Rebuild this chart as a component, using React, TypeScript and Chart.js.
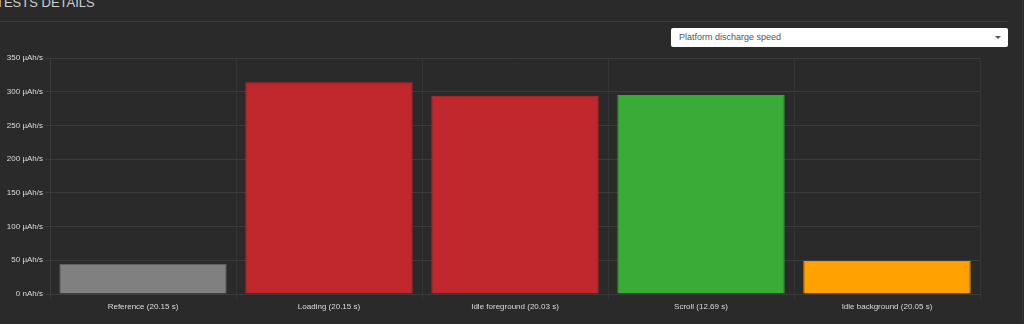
import React, { useEffect, useRef } from "react";
import { Chart, registerables } from "chart.js";

Chart.register(...registerables);

const categories = [
  "Reference (20.15 s)",
  "Loading (20.15 s)",
  "Idle foreground (20.03 s)",
  "Scroll (12.69 s)",
  "Idle background (20.05 s)",
];
const dischargeValues = [44.5, 314, 294, 295, 49];
const barColors = ["#808080", "#c1282e", "#c1282e", "#3aab37", "#ffa100"];
const barBorders = ["#606060", "#bb272d", "#bb272d", "#38a535", "#f09800"];
const yTicks = [0, 50, 100, 150, 200, 250, 300, 350];

const BG = "#2a2a2a";
const GRID = "#3b3b3b";
const FONT = "'Liberation Sans', Arial, Helvetica, sans-serif";

export default function App() {
  const ref = useRef<HTMLCanvasElement | null>(null);

  useEffect(() => {
    document.body.style.margin = "0";
    document.body.style.background = BG;
    if (!ref.current) return;
    const chart = new Chart(ref.current, {
      type: "bar",
      data: {
        labels: categories,
        datasets: [
          {
            label: "Platform discharge speed",
            data: dischargeValues,
            backgroundColor: barColors,
            borderColor: barBorders,
            borderWidth: 1,
            barPercentage: 0.9,
            categoryPercentage: 1,
          },
        ],
      },
      options: {
        animation: false,
        responsive: false,
        maintainAspectRatio: false,
        devicePixelRatio: 1,
        layout: { padding: { top: 8, right: 10, left: 0, bottom: 0 } },
        plugins: { legend: { display: false }, tooltip: { enabled: false } },
        scales: {
          x: {
            grid: { color: "#343434", offset: true, tickLength: 6, drawOnChartArea: true },
            border: { color: GRID },
            ticks: { color: "#dcdcdc", font: { family: FONT, size: 8 }, padding: 2, maxRotation: 0 },
            afterFit: (s: any) => {
              s.height = 26;
            },
          },
          y: {
            min: 0,
            max: 350,
            afterBuildTicks: (s: any) => {
              s.ticks = yTicks.map((v) => ({ value: v }));
            },
            grid: { color: GRID, tickLength: 5 },
            border: { color: GRID },
            ticks: {
              color: "#dcdcdc",
              font: { family: FONT, size: 8 },
              padding: 2,
              callback: (v: any) => (Number(v) === 0 ? "0 nAh/s" : v + " µAh/s"),
            },
            afterFit: (s: any) => {
              s.width = 50;
            },
          },
        },
      },
    });
    return () => chart.destroy();
  }, []);

  return (
    <div style={{ position: "relative", width: 1024, height: 324, background: BG, overflow: "hidden", fontFamily: FONT }}>
      <div style={{ position: "absolute", left: -4, top: -4, fontSize: 13, lineHeight: "13px", color: "#cfcfcf", whiteSpace: "nowrap" }}>
        TESTS DETAILS
      </div>
      <div style={{ position: "absolute", left: 0, top: 21, width: 1008, height: 1, background: "#3c3c3c" }} />
      <div style={{ position: "absolute", left: 1022, top: 0, width: 1, height: 324, background: "#333333" }} />
      <div
        style={{
          position: "absolute",
          left: 671,
          top: 28,
          width: 337,
          height: 19,
          background: "#ffffff",
          borderRadius: 2,
          boxSizing: "border-box",
          paddingLeft: 8,
          fontSize: 9,
          lineHeight: "19px",
          color: "#555555",
        }}
      >
        Platform discharge speed
        <div
          style={{
            position: "absolute",
            right: 7,
            top: 8,
            width: 0,
            height: 0,
            borderLeft: "3px solid transparent",
            borderRight: "3px solid transparent",
            borderTop: "3px solid #555",
          }}
        />
      </div>
      <div style={{ position: "absolute", left: 0, top: 50, width: 990, height: 270 }}>
        <canvas ref={ref} width={990} height={270} style={{ display: "block", width: 990, height: 270 }} />
      </div>
    </div>
  );
}
